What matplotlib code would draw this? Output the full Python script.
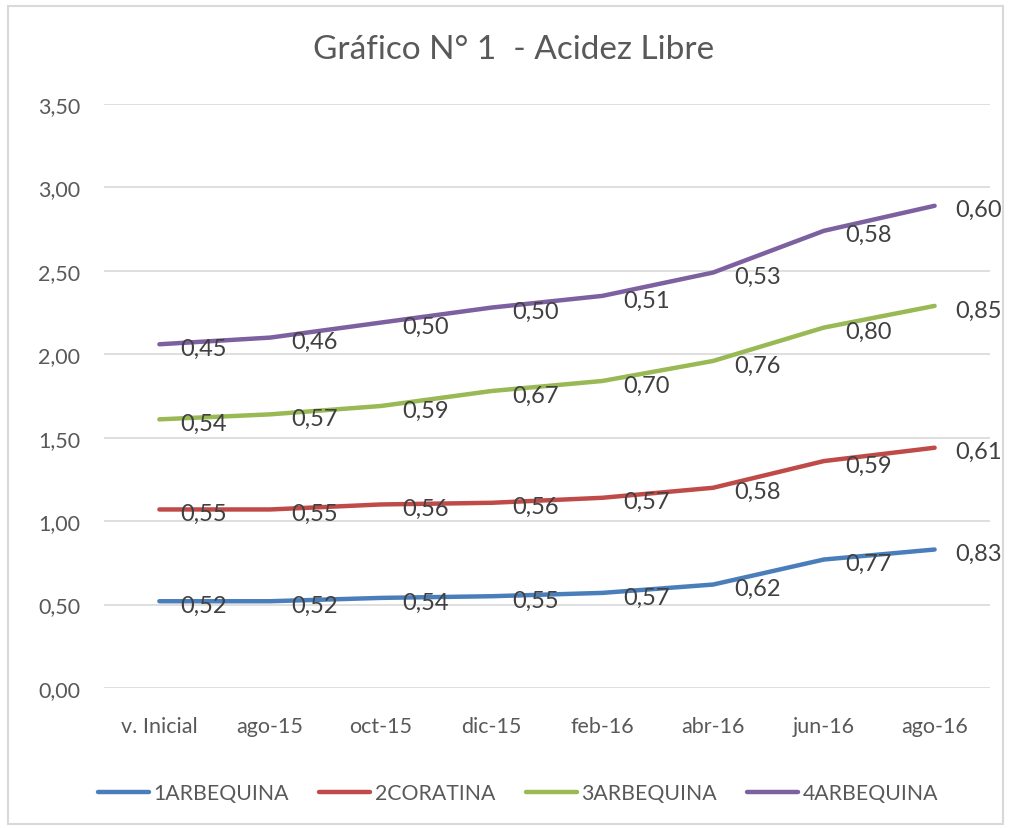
import matplotlib
matplotlib.use('Agg')
from matplotlib import pyplot as plt
from matplotlib.patches import Rectangle
import numpy as np

plt.rcParams['font.family'] = ['Lato', 'DejaVu Sans']

categories = ['v. Inicial', 'ago-15', 'oct-15', 'dic-15', 'feb-16', 'abr-16', 'jun-16', 'ago-16']

arbequina1 = [0.52, 0.52, 0.54, 0.55, 0.57, 0.62, 0.77, 0.83]
coratina2 = [0.55, 0.55, 0.56, 0.56, 0.57, 0.58, 0.59, 0.61]
arbequina3 = [0.54, 0.57, 0.59, 0.67, 0.70, 0.76, 0.80, 0.85]
arbequina4 = [0.45, 0.46, 0.50, 0.50, 0.51, 0.53, 0.58, 0.60]

series_names = ['1ARBEQUINA', '2CORATINA', '3ARBEQUINA', '4ARBEQUINA']
series_colors = ['#4A7EBB', '#BE4B48', '#98B954', '#7D60A0']

yticks = [0.0, 0.5, 1.0, 1.5, 2.0, 2.5, 3.0, 3.5]

W, H = 1009, 829
fig = plt.figure(figsize=(W / 100, H / 100), dpi=100)
ax = fig.add_axes([104 / W, 1 - 689 / H, (990 - 104) / W, (689 - 105) / H])

# stacked lines, labels show each series' own value
x = np.arange(len(categories))
bottom = np.zeros(len(categories))
for vals, name, col in zip([arbequina1, coratina2, arbequina3, arbequina4], series_names, series_colors):
    vals = np.array(vals)
    top = bottom + vals
    ax.plot(x, top, color=col, lw=3.2, solid_capstyle='round', label=name, zorder=3)
    for xi, yi, v in zip(x, top, vals):
        ax.annotate(f'{v:.2f}'.replace('.', ','), (xi, yi), xytext=(21, -4),
                    textcoords='offset pixels', ha='left', va='center',
                    fontsize=17, color='#404040', zorder=4)
    bottom = top

ax.set_xlim(-0.5, len(categories) - 0.5)
ax.set_ylim(0, 3.5)
ax.set_yticks(yticks)
ax.set_yticklabels([f'{t:.2f}'.replace('.', ',') for t in yticks])
ax.set_xticks(x)
ax.set_xticklabels(categories)
ax.tick_params(axis='both', length=0, labelsize=15.5, colors='#595959')
ax.tick_params(axis='x', pad=20)
ax.tick_params(axis='y', pad=17)
ax.grid(axis='y', color='#d9d9d9', lw=1.2)
ax.set_axisbelow(True)
for s in ax.spines.values():
    s.set_visible(False)

fig.text(514 / W, 1 - 50 / H, 'Gráfico N° 1  - Acidez Libre', ha='center', va='center',
         fontsize=24, color='#595959')

fig.legend(loc='center', bbox_to_anchor=(518 / W, 1 - 794 / H), ncol=4, frameon=False,
           fontsize=15.3, labelcolor='#595959', handlelength=2.4, handletextpad=0.2,
           columnspacing=1.45)

fig.patches.append(Rectangle((8 / W, 1 - 825 / H), (1003 - 8) / W, (825 - 7) / H,
                             transform=fig.transFigure, fill=False, ec='#d9d9d9', lw=1.5))

fig.savefig('out.png', dpi=100)
